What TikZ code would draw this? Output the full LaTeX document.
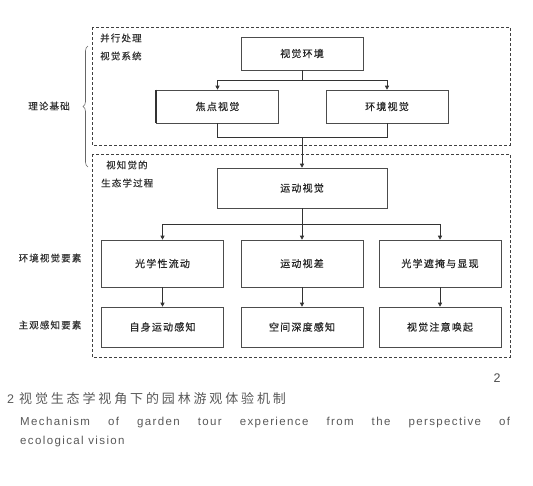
\documentclass[tikz,border=0pt]{standalone}
\usepackage{fontspec}
\setmainfont{Liberation Sans}
\newfontfamily\cjk[LetterSpace=12,FakeBold=0.5]{Noto Sans CJK SC}
\newfontfamily\cjkcap[LetterSpace=22]{Noto Sans CJK SC}
\newfontfamily\enfont[LetterSpace=12]{Liberation Sans}
\usetikzlibrary{arrows.meta,decorations.pathreplacing}
\begin{document}
\begin{tikzpicture}[x=1pt,y=-1pt,
  box/.style={draw=black!70,line width=0.6pt,minimum height=33pt,minimum width=122pt,inner sep=0pt,font=\cjk\fontsize{10}{11}\selectfont,text=black!85},
  grp/.style={draw=black!75,line width=0.8pt,dash pattern=on 3pt off 2pt},
  lbl/.style={font=\cjk\fontsize{9.5}{12}\selectfont,text=black!80,align=left,inner sep=0pt},
  conn/.style={draw=black!80,line width=0.6pt},
  arr/.style={conn,-{Triangle[length=4pt,width=4pt]}}]
\useasboundingbox (0,0) rectangle (533,485);
% group frames
\draw[grp] (92,27) rectangle (510,145);
\draw[grp] (92,154) rectangle (510,357);
% group titles
\node[lbl,anchor=west] (t1a) at (100,38) {并行处理};
\node[lbl,anchor=west] (t1b) at (100,56) {视觉系统};
\node[lbl,anchor=west] (t2a) at (106,165) {视知觉的};
\node[lbl,anchor=west] (t2b) at (101,183) {生态学过程};
% left labels
\node[lbl] (l1) at (49,106) {理论基础};
\node[lbl] (l2) at (50,258) {环境视觉要素};
\node[lbl] (l3) at (50,325) {主观感知要素};
% brace
\draw[black!60,line width=0.6pt,decorate,decoration={brace,amplitude=5pt,mirror}] (88,46) -- (88,167);
% boxes
\node[box] (env) at (302,53.5) {视觉环境};
\node[box] (focal) at (217.5,106.5) {焦点视觉};
\draw[black!80,line width=1.6pt] (focal.north west) -- (focal.south west);
\node[box] (amb) at (387,106.5) {环境视觉};
\node[box,minimum width=170pt,minimum height=40pt] (motion) at (302,188) {运动视觉};
\node[box,minimum height=47pt] (flow) at (162.5,263.5) {光学性流动};
\node[box,minimum height=47pt] (para) at (302,263.5) {运动视差};
\node[box,minimum height=47pt] (occl) at (440,263.5) {光学遮掩与显现};
\node[box,minimum height=40pt] (self) at (162.5,327) {自身运动感知};
\node[box,minimum height=40pt] (depth) at (302,327) {空间深度感知};
\node[box,minimum height=40pt] (atten) at (440,327) {视觉注意唤起};
% connectors
\coordinate (s1) at (302,80);
\draw[conn] (env.south) -- (s1);
\draw[arr] (s1) -| (focal.north);
\draw[arr] (s1) -| (amb.north);
\coordinate (m1) at (302,137);
\draw[conn] (focal.south) |- (m1);
\draw[conn] (amb.south) |- (m1);
\draw[arr] (m1) -- (motion.north);
\coordinate (s2) at (302,224);
\draw[conn] (motion.south) -- (s2);
\draw[arr] (s2) -| (flow.north);
\draw[arr] (s2) -- (para.north);
\draw[arr] (s2) -| (occl.north);
\draw[arr] (flow.south) -- (self.north);
\draw[arr] (para.south) -- (depth.north);
\draw[arr] (occl.south) -- (atten.north);
% caption
\node[font=\fontsize{12.5}{14}\selectfont,text=black!70,inner sep=0pt] (num) at (497,378) {2};
\node[anchor=west,inner sep=0pt,text=black!65,font=\fontsize{12.5}{14}\selectfont] (cap1) at (7,399) {2\hspace{5pt}{\cjkcap\fontsize{13}{14}\selectfont 视觉生态学视角下的园林游观体验机制}};
\node[anchor=west,inner sep=0pt,text=black!65,font=\enfont\fontsize{11.5}{14}\selectfont] (cap2) at (20,423) {\makebox[490pt][s]{Mechanism of garden tour experience from the perspective of}};
\node[anchor=west,inner sep=0pt,text=black!65,font=\enfont\fontsize{11.5}{14}\selectfont] (cap3) at (20,442) {ecological vision};
\end{tikzpicture}
\end{document}
